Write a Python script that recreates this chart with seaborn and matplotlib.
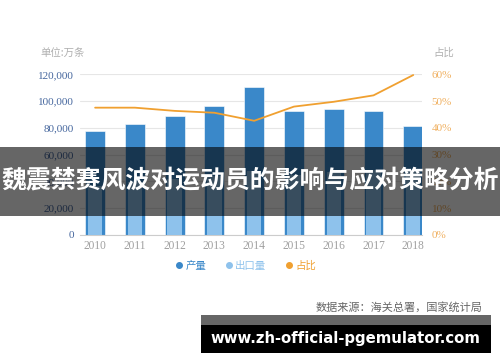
import matplotlib
matplotlib.use('Agg')
import numpy as np
import pandas as pd
import seaborn as sns
import matplotlib.pyplot as plt
from matplotlib.patches import Rectangle
from matplotlib.lines import Line2D
from matplotlib.ticker import FuncFormatter

years = ['2010', '2011', '2012', '2013', '2014', '2015', '2016', '2017', '2018']
production = [77500, 83200, 89200, 96500, 110900, 92700, 94500, 92700, 81300]
exports = [36500, 39500, 41500, 44000, 47500, 44500, 47000, 48500, 48500]
share = [47.6, 47.6, 46.4, 45.7, 42.7, 48.0, 49.8, 52.2, 59.8]
left_ticks = [0, 20000, 40000, 60000, 80000, 100000, 120000]
right_ticks = [0, 10, 20, 30, 40, 50, 60]
legend_labels = ['产量', '出口量', '占比']

C_PROD = '#3a88c9'
C_EXP = '#8ec2ec'
C_LINE = '#f0a030'

sns.set_theme(style='white')
plt.rcParams['font.family'] = ['Liberation Serif', 'Noto Sans CJK SC', 'DejaVu Sans']
CJK = ['Noto Sans CJK SC', 'DejaVu Sans']

W, H = 500, 362
def fx(x):
    return x / W
def fy(y):
    return 1 - y / H

fig = plt.figure(figsize=(5, 3.62), dpi=100)
fig.patch.set_facecolor('white')
ax = fig.add_axes([fx(80), fy(235), (422 - 80) / W, (235 - 74.5) / H])

df = pd.DataFrame({'year': years, 'production': production,
                   'exports': exports, 'share': share})
sns.barplot(data=df, x='year', y='production', color=C_PROD, saturation=1,
            width=0.5, ax=ax, edgecolor='white', linewidth=0.4, zorder=2)
sns.barplot(data=df, x='year', y='exports', color=C_EXP, saturation=1,
            width=0.36, ax=ax, linewidth=0, zorder=3)
ax.set_xlim(-0.38, 8.22)
ax.set_ylim(0, 120000)
ax.set_yticks(left_ticks)
ax.yaxis.set_major_formatter(FuncFormatter(lambda v, p: f"{v:,.0f}"))
ax.grid(axis='y', color='#e6e6e6', lw=0.8)
ax.set_axisbelow(True)
for s in ['top', 'left', 'right']:
    ax.spines[s].set_visible(False)
ax.spines['bottom'].set_color('#cccccc')
ax.spines['bottom'].set_linewidth(0.8)
ax.tick_params(axis='y', length=0, pad=4.3, labelsize=8, labelcolor='#46679e')
ax.tick_params(axis='x', length=0, pad=3.6, labelsize=8.3, labelcolor='#a0a0a0')
ax.set_xlabel('')
ax.set_ylabel('')

ax2 = ax.twinx()
sns.lineplot(x=np.arange(len(years)), y=share, ax=ax2, color=C_LINE, lw=1.3)
ax2.set_ylim(0, 60)
ax2.set_yticks(right_ticks)
ax2.yaxis.set_major_formatter(FuncFormatter(lambda v, p: f"{v:.0f}%"))
ax2.tick_params(axis='y', length=0, pad=7, labelsize=8, labelcolor='#f0b060')
for s in ax2.spines.values():
    s.set_visible(False)
ax2.set_ylabel('')

fig.text(fx(40), fy(53), '单位:万条', family=CJK, fontsize=7.5, color='#b0b0b0',
         ha='left', va='center')
fig.text(fx(433), fy(53), '占比', family=CJK, fontsize=7.5, color='#b0b0b0',
         ha='left', va='center')

handles = [Line2D([], [], marker='o', ls='', color=c, markersize=4)
           for c in [C_PROD, C_EXP, C_LINE]]
leg = fig.legend(handles, legend_labels, loc='center', ncol=3,
                 bbox_to_anchor=(fx(246), fy(266)), frameon=False,
                 handlelength=0.6, handletextpad=0.3, columnspacing=1.9,
                 prop={'family': CJK, 'size': 7.5})
for t, c in zip(leg.get_texts(), [C_PROD, C_EXP, C_LINE]):
    t.set_color(c)

fig.text(fx(482), fy(307), '数据来源：海关总署，国家统计局', family=CJK, fontsize=8,
         color='#666666', ha='right', va='center')

# banner overlay
fig.patches.append(Rectangle((0, fy(216)), 1, (216 - 147) / H,
                             transform=fig.transFigure, facecolor='black',
                             alpha=0.6, lw=0, zorder=10))
fig.text(0.5, fy(181.5), '魏震禁赛风波对运动员的影响与应对策略分析', family=CJK,
         fontsize=17.9, fontweight='bold', color='white', ha='center',
         va='center', zorder=11)

# bottom url box
fig.patches.append(Rectangle((fx(201), fy(325)), (491 - 201) / W, (325 - 315) / H,
                             transform=fig.transFigure, facecolor='#666666',
                             lw=0, zorder=10))
fig.patches.append(Rectangle((fx(201), fy(353)), (491 - 201) / W, (353 - 325) / H,
                             transform=fig.transFigure, facecolor='black',
                             lw=0, zorder=10))
fig.text(fx(345), fy(339), 'www.zh-official-pgemulator.com', family=['DejaVu Sans'],
         fontsize=10.7, fontweight='bold', color='white', ha='center',
         va='center', zorder=11)

fig.savefig('out.png', dpi=100)
